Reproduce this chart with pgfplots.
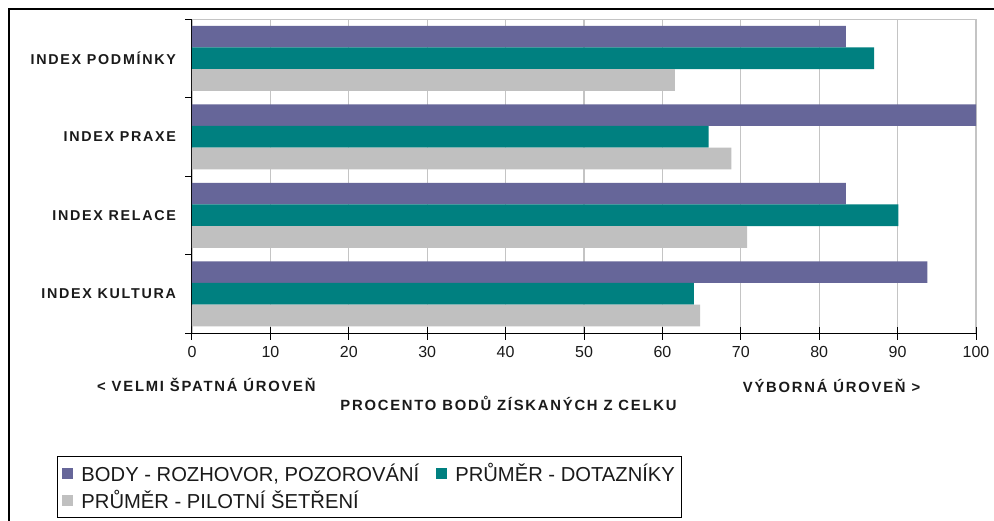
\documentclass[border=0pt]{standalone}
\usepackage{pgfplots}
\pgfplotsset{compat=1.18}
\usepackage{fontspec}
\setmainfont{Liberation Sans}
\newfontfamily\lbl[LetterSpace=12]{Liberation Sans}
\definecolor{cpurple}{HTML}{666699}
\definecolor{cteal}{HTML}{008080}
\definecolor{cgray}{HTML}{C0C0C0}
\definecolor{cgrid}{HTML}{C4C4C4}
\definecolor{ctext}{HTML}{1A1A1A}
\begin{document}
\begin{tikzpicture}[x=1pt,y=1pt]
\useasboundingbox (0,0) rectangle (994,520);
\fill[white] (0,0) rectangle (994,520);
\draw[line width=1.4pt] (9,-10) -- (9,511) -- (1010,511);
\begin{axis}[
  at={(192pt,187pt)}, anchor=south west,
  scale only axis, width=784pt, height=314pt,
  xmin=0, xmax=100, ymin=-0.5, ymax=3.5,
  xbar, bar width=21.6pt,
  axis lines*=left,
  axis line style={black, line width=1pt},
  xtick={0,10,...,100},
  ytick={0,1,2,3},
  yticklabels={INDEX KULTURA, INDEX RELACE, INDEX PRAXE, INDEX PODMÍNKY},
  minor ytick={-0.5,0.5,1.5,2.5,3.5},
  tick align=center,
  major tick length=13pt,
  minor tick length=7pt,
  major y tick style={draw=none},
  minor y tick style={xshift=-3.5pt, black, line width=1pt},
  major x tick style={black, line width=1pt},
  xmajorgrids,
  major x grid style={cgrid, line width=1.2pt},
  x tick label style={font=\fontsize{16}{19}\selectfont, text=ctext, /pgf/number format/assume math mode=true, yshift=-3pt},
  y tick label style={font=\fontsize{14.3}{16}\selectfont\lbl\bfseries, text=ctext, xshift=-6pt},
  xlabel={PROCENTO BODŮ ZÍSKANÝCH Z CELKU},
  x label style={at={(axis description cs:0.4037,-0.223)}, anchor=center, font=\fontsize{14.8}{16}\selectfont\lbl\bfseries, text=ctext},
  legend columns=2,
  legend cell align=left,
  legend style={at={(-0.1722,-0.392)}, anchor=north west, draw=black, line width=1pt,
    font=\fontsize{20.2}{23}\selectfont, text=ctext, inner sep=5pt, row sep=3pt,
    /tikz/every even column/.append style={column sep=15pt},
    /tikz/every odd column/.append style={column sep=6pt}},
  legend image code/.code={\fill[#1,draw=none] (0pt,-5.5pt) rectangle (11pt,5.5pt);},
]
\addplot[fill=cpurple, draw=none, bar shift=21.7pt] coordinates {(93.8,0) (83.4,1) (100,2) (83.4,3)};
\addplot[fill=cteal, draw=none, bar shift=0pt] coordinates {(64.0,0) (90.1,1) (65.9,2) (87.0,3)};
\addplot[fill=cgray, draw=none, bar shift=-21.7pt] coordinates {(64.8,0) (70.8,1) (68.8,2) (61.6,3)};
\draw[cgrid, line width=1.2pt] (rel axis cs:0,1) -- (rel axis cs:1,1);
\legend{BODY - ROZHOVOR{,} POZOROVÁNÍ, PRŮMĚR - DOTAZNÍKY, PRŮMĚR - PILOTNÍ ŠETŘENÍ}
\end{axis}
\node[anchor=west, inner sep=0, text=ctext, font=\fontsize{14.8}{16}\selectfont\lbl\bfseries] at (97,135) {< VELMI ŠPATNÁ ÚROVEŇ};
\node[anchor=west, inner sep=0, text=ctext, font=\fontsize{14.8}{16}\selectfont\lbl\bfseries] at (742.7,134.3) {VÝBORNÁ ÚROVEŇ >};
\end{tikzpicture}
\end{document}
